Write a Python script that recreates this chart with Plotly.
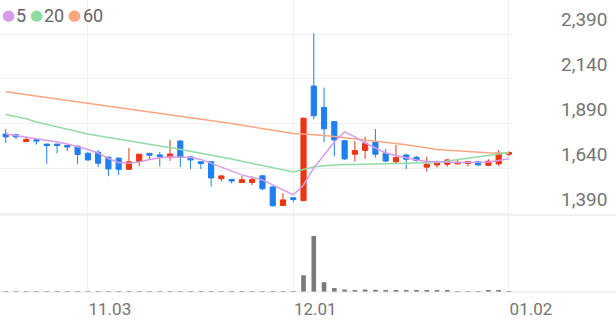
import plotly.graph_objects as go

dates = [
    "2025-10-22", "2025-10-23", "2025-10-24", "2025-10-27", "2025-10-28", "2025-10-29", "2025-10-30", "2025-10-31",
    "2025-11-03", "2025-11-04", "2025-11-05", "2025-11-06", "2025-11-07",
    "2025-11-10", "2025-11-11", "2025-11-12", "2025-11-13", "2025-11-14",
    "2025-11-17", "2025-11-18", "2025-11-19", "2025-11-20", "2025-11-21",
    "2025-11-24", "2025-11-25", "2025-11-26", "2025-11-27", "2025-11-28",
    "2025-12-01", "2025-12-02", "2025-12-03", "2025-12-04", "2025-12-05",
    "2025-12-08", "2025-12-09", "2025-12-10", "2025-12-11", "2025-12-12",
    "2025-12-15", "2025-12-16", "2025-12-17", "2025-12-18", "2025-12-19",
    "2025-12-22", "2025-12-23", "2025-12-24", "2025-12-26", "2025-12-29", "2025-12-30",
    "2026-01-02",
]

opens = [1834, 1830, 1792, 1803, 1778, 1778, 1770, 1765, 1727, 1733,
         1705, 1700, 1638, 1682, 1727, 1718, 1705, 1795, 1707, 1680,
         1680, 1586, 1582, 1565, 1565, 1602, 1540, 1437, 1480, 1464,
         2101, 1982, 1903, 1797, 1722, 1743, 1788, 1727, 1680, 1718,
         1705, 1650, 1662, 1666, 1668, 1670, 1680, 1660, 1668, 1722]
highs = [1862, 1834, 1819, 1806, 1780, 1780, 1772, 1772, 1735, 1746,
         1710, 1705, 1757, 1724, 1728, 1735, 1801, 1800, 1712, 1683,
         1683, 1607, 1584, 1600, 1598, 1605, 1542, 1505, 1482, 1925,
         2394, 2092, 1905, 1800, 1795, 1819, 1862, 1751, 1773, 1722,
         1712, 1708, 1687, 1694, 1690, 1682, 1682, 1694, 1745, 1738]
lows = [1784, 1806, 1788, 1776, 1668, 1727, 1740, 1668, 1686, 1650,
        1600, 1607, 1635, 1655, 1693, 1655, 1685, 1650, 1640, 1640,
        1542, 1570, 1560, 1562, 1550, 1522, 1432, 1435, 1455, 1460,
        1917, 1788, 1710, 1690, 1681, 1696, 1703, 1677, 1673, 1640,
        1681, 1625, 1648, 1653, 1666, 1655, 1660, 1655, 1657, 1712]
closes = [1818, 1818, 1804, 1795, 1770, 1770, 1762, 1720, 1690, 1672,
          1640, 1638, 1680, 1722, 1716, 1708, 1723, 1705, 1690, 1670,
          1590, 1601, 1573, 1580, 1582, 1530, 1435, 1468, 1470, 1922,
          1936, 1863, 1801, 1696, 1742, 1783, 1722, 1684, 1703, 1694,
          1687, 1666, 1673, 1690, 1677, 1680, 1662, 1683, 1727, 1731]
volumes = [60000, 50000, 40000, 50000, 70000, 50000, 40000, 60000, 50000, 40000,
           50000, 40000, 60000, 50000, 40000, 40000, 50000, 60000, 40000, 50000,
           80000, 40000, 50000, 40000, 50000, 70000, 90000, 80000, 60000, 1700000,
           5700000, 1000000, 400000, 250000, 200000, 250000, 220000, 150000, 180000, 150000,
           130000, 150000, 120000, 110000, 100000, 90000, 100000, 110000, 120000, 60000]

ma5 = [1834, 1826, 1818, 1809, 1798, 1790, 1779, 1764, 1748, 1729,
       1698, 1676, 1672, 1679, 1693, 1701, 1708, 1707, 1704, 1693,
       1671, 1651, 1629, 1607, 1593, 1579, 1551, 1523, 1496, 1551,
       1646, 1718, 1790, 1846, 1818, 1784, 1757, 1729, 1715, 1701,
       1690, 1682, 1679, 1677, 1676, 1676, 1677, 1679, 1687, 1696]
ma20 = [1942, 1931, 1919, 1901, 1887, 1873, 1859, 1847, 1834, 1824,
        1814, 1804, 1794, 1784, 1777, 1767, 1759, 1749, 1738, 1728,
        1717, 1706, 1695, 1683, 1671, 1659, 1647, 1634, 1623, 1637,
        1651, 1658, 1662, 1664, 1664, 1665, 1666, 1667, 1668, 1669,
        1671, 1673, 1676, 1684, 1691, 1697, 1707, 1715, 1723, 1731]
ma60 = [2069, 2061, 2054, 2046, 2038, 2030, 2022, 2015, 2007, 1999,
        1991, 1983, 1975, 1968, 1960, 1953, 1944, 1937, 1929, 1921,
        1911, 1901, 1893, 1883, 1874, 1864, 1855, 1845, 1837, 1834,
        1831, 1826, 1820, 1814, 1808, 1801, 1795, 1790, 1783, 1774,
        1766, 1757, 1748, 1744, 1740, 1736, 1731, 1730, 1729, 1727]

price_ticks = [1390, 1640, 1890, 2140, 2390]
x_tick_dates = ["2025-11-03", "2025-12-01", "2026-01-02"]
x_tick_labels = ["11.03", "12.01", "01.02"]
legend_names = ["5", "20", "60"]

RED = "#ec3512"
BLUE = "#1f7fee"
C5 = "#d59ceb"
C20 = "#93dba4"
C60 = "#f8a682"
GRID = "#f1f1f1"
SEP = "#e4e4e4"
TXT = "#757575"

W, H = 616, 321
PL, PR, PT, PB = 0, 104, 0, 29
plot_w = W - PL - PR
plot_h = H - PT - PB
vol_h = 77
vol_frac = vol_h / plot_h

fig = go.Figure()
for vals, col in [(ma60, C60), (ma20, C20), (ma5, C5)]:
    fig.add_trace(go.Scatter(x=dates, y=vals, mode="lines",
                             line=dict(color=col, width=1.5),
                             xaxis="x", yaxis="y", hoverinfo="skip"))
fig.add_trace(go.Candlestick(
    x=dates, open=opens, high=highs, low=lows, close=closes,
    increasing=dict(line=dict(color=RED, width=1), fillcolor=RED),
    decreasing=dict(line=dict(color=BLUE, width=1), fillcolor=BLUE),
    whiskerwidth=0, xaxis="x", yaxis="y", hoverinfo="skip"))
fig.add_trace(go.Bar(x=dates, y=volumes, marker=dict(color="#7a7a7a", line=dict(width=0)),
                     width=0.45, xaxis="x2", yaxis="y2", hoverinfo="skip"))

xr = [-0.555, 49.3]
common_x = dict(type="category", range=xr, showgrid=True, gridcolor=GRID, gridwidth=1,
                tickvals=x_tick_dates, ticktext=x_tick_labels, zeroline=False,
                showline=False, ticks="", rangeslider=dict(visible=False),
                fixedrange=True)

# legend as text annotations
legend_anns = []
dot_px = [8, 36, 74]
txt_px = [15, 43, 82]
for name, col, dx, tx in zip(legend_names, [C5, C20, C60], dot_px, txt_px):
    legend_anns.append(dict(xref="paper", yref="paper", x=dx / plot_w, y=1,
                            xanchor="center", yanchor="middle", yshift=-15,
                            showarrow=False, text="●", borderpad=0,
                            font=dict(size=15, color=col, family="DejaVu Sans")))
    legend_anns.append(dict(xref="paper", yref="paper", x=tx / plot_w, y=1,
                            xanchor="left", yanchor="middle", yshift=-15,
                            showarrow=False, text=name, borderpad=0,
                            font=dict(size=18, color="#666666", family="Roboto")))

fig.update_layout(
    width=W, height=H,
    margin=dict(l=PL, r=PR, t=PT, b=PB),
    paper_bgcolor="white", plot_bgcolor="white",
    showlegend=False,
    boxgap=0.28,
    font=dict(family="Roboto", color=TXT),
    xaxis=dict(**common_x, anchor="y", showticklabels=False),
    xaxis2=dict(**common_x, anchor="y2", matches="x", showticklabels=True,
                ticklabelshift=22, ticklabelstandoff=5,
                tickfont=dict(size=17, color=TXT)),
    yaxis=dict(domain=[vol_frac, 1], range=[1384, 2579], side="right",
               tickvals=price_ticks, tickformat=",d", showgrid=True, gridcolor=GRID,
               zeroline=False, showline=False, ticks="", ticklabelshift=-15,
               ticklabelstandoff=48, tickfont=dict(size=19, color=TXT),
               automargin=False, fixedrange=True),
    yaxis2=dict(domain=[0, vol_frac], range=[0, 7840000], showgrid=False,
                showticklabels=False, zeroline=False, showline=False, ticks="",
                fixedrange=True),
    shapes=[
        dict(type="line", xref="paper", yref="paper", x0=0, x1=W / plot_w,
             y0=vol_frac, y1=vol_frac, line=dict(color=SEP, width=1)),
        dict(type="line", xref="paper", yref="paper", x0=0, x1=W / plot_w,
             y0=0, y1=0, line=dict(color=SEP, width=1)),
    ],
    annotations=legend_anns,
)

fig.write_html("out.html")
